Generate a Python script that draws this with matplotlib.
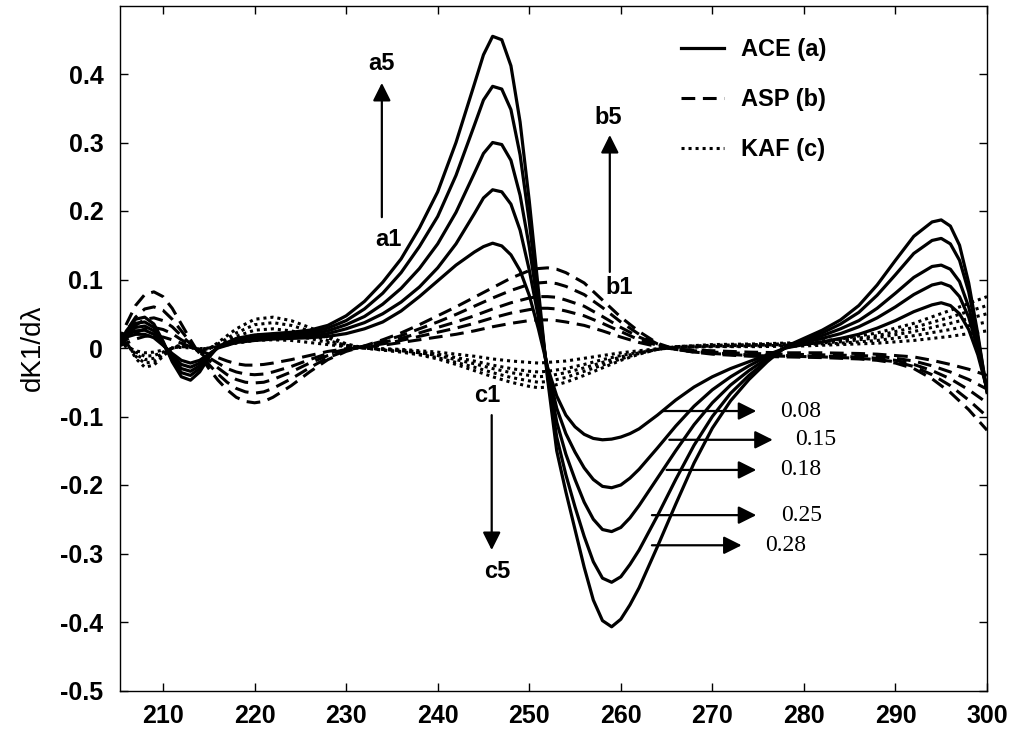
import matplotlib
matplotlib.use("Agg")
import matplotlib.pyplot as plt
from matplotlib.lines import Line2D

# ---------------- data ----------------
x_ace = [205, 206, 207, 208, 209, 210, 211, 212, 213, 214, 215, 216, 218, 220, 222, 224, 226, 228,
         230, 232, 234, 236, 238, 240, 242, 244, 245, 246, 247, 248, 249, 250, 251, 252, 253, 254,
         255, 256, 257, 258, 259, 260, 261, 262, 264, 266, 268, 270, 272, 274, 276, 278, 280, 282,
         284, 286, 288, 290, 292, 294, 295, 296, 297, 298, 299, 300]

ace_a5 = [0.000, 0.025, 0.042, 0.045, 0.035, 0.010, -0.020, -0.042, -0.047, -0.035, -0.014, 0.002,
          0.014, 0.019, 0.021, 0.023, 0.026, 0.033, 0.047, 0.068, 0.096, 0.130, 0.175, 0.228, 0.300,
          0.385, 0.428, 0.455, 0.450, 0.412, 0.330, 0.215, 0.085, -0.045, -0.150, -0.210, -0.265,
          -0.320, -0.368, -0.398, -0.407, -0.396, -0.375, -0.350, -0.290, -0.228, -0.168, -0.117,
          -0.077, -0.046, -0.020, 0.002, 0.014, 0.026, 0.041, 0.062, 0.092, 0.128, 0.163, 0.184,
          0.187, 0.178, 0.150, 0.095, 0.020, -0.065]
ace_a4 = [0.005, 0.022, 0.036, 0.038, 0.030, 0.008, -0.017, -0.036, -0.040, -0.030, -0.013, 0.002,
          0.012, 0.017, 0.019, 0.021, 0.023, 0.029, 0.040, 0.057, 0.080, 0.110, 0.148, 0.192, 0.252,
          0.325, 0.362, 0.382, 0.378, 0.348, 0.282, 0.185, 0.070, -0.040, -0.130, -0.185, -0.232,
          -0.275, -0.312, -0.336, -0.342, -0.334, -0.316, -0.295, -0.245, -0.192, -0.142, -0.100,
          -0.066, -0.040, -0.018, 0.001, 0.012, 0.022, 0.035, 0.052, 0.077, 0.107, 0.138, 0.157,
          0.160, 0.152, 0.128, 0.082, 0.015, -0.063]
ace_a3 = [0.008, 0.020, 0.030, 0.032, 0.025, 0.006, -0.014, -0.030, -0.034, -0.026, -0.012, 0.001,
          0.010, 0.015, 0.017, 0.018, 0.020, 0.025, 0.034, 0.046, 0.064, 0.087, 0.116, 0.152, 0.198,
          0.255, 0.284, 0.300, 0.297, 0.274, 0.223, 0.148, 0.058, -0.035, -0.108, -0.155, -0.192,
          -0.225, -0.250, -0.265, -0.268, -0.262, -0.248, -0.230, -0.190, -0.150, -0.112, -0.080,
          -0.054, -0.033, -0.015, 0.001, 0.010, 0.018, 0.028, 0.040, 0.058, 0.080, 0.103, 0.119,
          0.121, 0.115, 0.097, 0.060, 0.005, -0.062]
ace_a2 = [0.010, 0.018, 0.025, 0.026, 0.020, 0.005, -0.011, -0.024, -0.028, -0.022, -0.010, 0.001,
          0.009, 0.013, 0.015, 0.016, 0.017, 0.021, 0.028, 0.037, 0.050, 0.067, 0.089, 0.117, 0.152,
          0.196, 0.219, 0.231, 0.228, 0.210, 0.172, 0.114, 0.045, -0.030, -0.088, -0.125, -0.152,
          -0.175, -0.192, -0.202, -0.204, -0.200, -0.190, -0.177, -0.146, -0.114, -0.085, -0.061,
          -0.042, -0.026, -0.012, 0.000, 0.008, 0.014, 0.021, 0.031, 0.044, 0.060, 0.078, 0.092,
          0.095, 0.090, 0.075, 0.045, -0.002, -0.061]
ace_a1 = [0.012, 0.016, 0.020, 0.020, 0.015, 0.004, -0.008, -0.018, -0.022, -0.018, -0.009, 0.000,
          0.008, 0.011, 0.013, 0.014, 0.015, 0.017, 0.021, 0.028, 0.038, 0.054, 0.075, 0.098, 0.121,
          0.140, 0.148, 0.153, 0.149, 0.136, 0.113, 0.077, 0.028, -0.028, -0.070, -0.098, -0.115,
          -0.126, -0.132, -0.134, -0.133, -0.130, -0.125, -0.118, -0.098, -0.076, -0.057, -0.042,
          -0.030, -0.020, -0.010, 0.000, 0.005, 0.009, 0.014, 0.020, 0.029, 0.040, 0.053, 0.063,
          0.066, 0.062, 0.050, 0.027, -0.010, -0.060]

x_asp = [205, 206, 207, 208, 209, 210, 211, 212, 213, 214, 215, 216, 217, 218, 219, 220, 221, 222,
         224, 226, 228, 230, 232, 234, 236, 238, 240, 242, 244, 246, 248, 250, 251, 252, 253, 254,
         256, 258, 260, 262, 264, 266, 268, 270, 274, 278, 282, 286, 288, 290, 292, 294, 296, 298, 300]

asp_b5 = [0.005, 0.035, 0.062, 0.078, 0.082, 0.075, 0.058, 0.035, 0.012, -0.010, -0.030, -0.047,
          -0.061, -0.072, -0.078, -0.080, -0.078, -0.072, -0.055, -0.035, -0.017, -0.005, 0.003,
          0.012, 0.022, 0.034, 0.047, 0.060, 0.074, 0.088, 0.102, 0.113, 0.116, 0.117, 0.115, 0.110,
          0.095, 0.070, 0.045, 0.024, 0.007, -0.002, -0.006, -0.009, -0.012, -0.013, -0.014, -0.016,
          -0.018, -0.022, -0.030, -0.045, -0.065, -0.090, -0.120]
asp_b4 = [0.005, 0.025, 0.045, 0.057, 0.060, 0.055, 0.042, 0.025, 0.008, -0.008, -0.024, -0.038,
          -0.050, -0.059, -0.064, -0.066, -0.064, -0.059, -0.045, -0.029, -0.014, -0.004, 0.003,
          0.010, 0.018, 0.028, 0.038, 0.049, 0.061, 0.073, 0.084, 0.093, 0.095, 0.096, 0.094, 0.090,
          0.078, 0.059, 0.038, 0.020, 0.006, -0.002, -0.006, -0.008, -0.011, -0.012, -0.013, -0.015,
          -0.017, -0.020, -0.027, -0.039, -0.055, -0.076, -0.100]
asp_b3 = [0.004, 0.018, 0.033, 0.042, 0.044, 0.040, 0.031, 0.018, 0.006, -0.006, -0.018, -0.029,
          -0.039, -0.046, -0.050, -0.051, -0.050, -0.046, -0.035, -0.022, -0.011, -0.003, 0.002,
          0.008, 0.014, 0.022, 0.030, 0.038, 0.047, 0.057, 0.066, 0.073, 0.075, 0.075, 0.074, 0.070,
          0.061, 0.046, 0.030, 0.016, 0.005, -0.002, -0.005, -0.007, -0.010, -0.011, -0.012, -0.013,
          -0.015, -0.018, -0.024, -0.033, -0.045, -0.061, -0.080]
asp_b2 = [0.003, 0.012, 0.022, 0.028, 0.030, 0.027, 0.021, 0.012, 0.004, -0.005, -0.014, -0.022,
          -0.030, -0.035, -0.038, -0.039, -0.038, -0.035, -0.027, -0.017, -0.008, -0.002, 0.002,
          0.006, 0.011, 0.017, 0.023, 0.029, 0.036, 0.044, 0.051, 0.056, 0.058, 0.058, 0.057, 0.054,
          0.047, 0.036, 0.024, 0.012, 0.004, -0.002, -0.004, -0.006, -0.008, -0.009, -0.010, -0.011,
          -0.012, -0.015, -0.019, -0.026, -0.035, -0.046, -0.060]
asp_b1 = [0.002, 0.007, 0.013, 0.017, 0.018, 0.016, 0.012, 0.007, 0.002, -0.003, -0.009, -0.014,
          -0.019, -0.023, -0.025, -0.025, -0.024, -0.022, -0.017, -0.011, -0.005, -0.001, 0.001,
          0.004, 0.008, 0.012, 0.016, 0.020, 0.025, 0.031, 0.036, 0.040, 0.041, 0.041, 0.040, 0.038,
          0.033, 0.025, 0.016, 0.008, 0.002, -0.002, -0.003, -0.004, -0.006, -0.007, -0.007, -0.008,
          -0.009, -0.011, -0.013, -0.018, -0.024, -0.031, -0.040]

x_kaf = [205, 206, 207, 208, 209, 210, 211, 212, 213, 214, 215, 216, 218, 220, 222, 224, 226, 228,
         230, 232, 234, 236, 238, 240, 242, 244, 246, 248, 250, 251, 252, 254, 256, 258, 260, 262,
         264, 266, 270, 275, 280, 284, 288, 292, 296, 300]

kaf_c5 = [0.025, 0.010, -0.015, -0.028, -0.025, -0.012, 0.000, 0.005, 0.002, -0.004, -0.002, 0.008,
          0.028, 0.042, 0.045, 0.040, 0.030, 0.018, 0.006, 0.000, -0.003, -0.006, -0.010, -0.016,
          -0.024, -0.033, -0.042, -0.050, -0.056, -0.058, -0.057, -0.050, -0.040, -0.029, -0.018,
          -0.009, -0.002, 0.002, 0.005, 0.006, 0.008, 0.013, 0.022, 0.036, 0.055, 0.075]
kaf_c4 = [0.020, 0.008, -0.012, -0.022, -0.020, -0.010, 0.000, 0.004, 0.001, -0.003, -0.001, 0.006,
          0.022, 0.034, 0.037, 0.033, 0.025, 0.015, 0.005, 0.000, -0.003, -0.005, -0.009, -0.014,
          -0.021, -0.028, -0.036, -0.043, -0.048, -0.050, -0.049, -0.043, -0.034, -0.025, -0.016,
          -0.008, -0.002, 0.002, 0.004, 0.005, 0.007, 0.011, 0.018, 0.030, 0.045, 0.062]
kaf_c3 = [0.015, 0.006, -0.009, -0.017, -0.015, -0.008, 0.000, 0.003, 0.001, -0.002, -0.001, 0.005,
          0.017, 0.026, 0.028, 0.025, 0.019, 0.011, 0.004, 0.000, -0.002, -0.004, -0.007, -0.011,
          -0.017, -0.023, -0.030, -0.036, -0.040, -0.042, -0.041, -0.036, -0.029, -0.021, -0.013,
          -0.007, -0.002, 0.001, 0.003, 0.004, 0.006, 0.009, 0.015, 0.024, 0.036, 0.050]
kaf_c2 = [0.010, 0.004, -0.006, -0.012, -0.011, -0.006, 0.000, 0.002, 0.001, -0.002, 0.000, 0.004,
          0.012, 0.019, 0.020, 0.018, 0.014, 0.008, 0.003, 0.000, -0.002, -0.003, -0.006, -0.009,
          -0.014, -0.019, -0.025, -0.030, -0.034, -0.035, -0.034, -0.030, -0.024, -0.017, -0.011,
          -0.006, -0.002, 0.001, 0.002, 0.003, 0.005, 0.007, 0.011, 0.018, 0.027, 0.038]
kaf_c1 = [0.006, 0.002, -0.004, -0.007, -0.006, -0.003, 0.000, 0.001, 0.000, -0.001, 0.000, 0.002,
          0.007, 0.011, 0.012, 0.011, 0.008, 0.005, 0.002, 0.000, -0.001, -0.002, -0.004, -0.006,
          -0.009, -0.012, -0.016, -0.019, -0.021, -0.022, -0.021, -0.019, -0.015, -0.011, -0.007,
          -0.004, -0.001, 0.001, 0.002, 0.002, 0.003, 0.005, 0.007, 0.011, 0.017, 0.025]

x_ticks = [210, 220, 230, 240, 250, 260, 270, 280, 290, 300]
y_ticks = [-0.5, -0.4, -0.3, -0.2, -0.1, 0.0, 0.1, 0.2, 0.3, 0.4]
y_tick_labels = ['-0.5', '-0.4', '-0.3', '-0.2', '-0.1', '0', '0.1', '0.2', '0.3', '0.4']
legend_labels = ['ACE (a)', 'ASP (b)', 'KAF (c)']
conc_labels = ['0.08', '0.15', '0.18', '0.25', '0.28']

# ---------------- figure ----------------
SANS = ['Liberation Sans', 'DejaVu Sans']
SERIF = ['Liberation Serif', 'DejaVu Serif']

fig = plt.figure(figsize=(10.14, 7.38), dpi=100)
ax = fig.add_axes([120 / 1014, 47.5 / 738, 867 / 1014, 685 / 738])

solid_kw = dict(color='black', lw=2.3, linestyle='-', solid_joinstyle='round')
dash_kw = dict(color='black', lw=2.2, linestyle=(0, (4.5, 2.5)))
dot_kw = dict(color='black', lw=2.2, linestyle=(0, (1, 1.3)))

for ys in [kaf_c1, kaf_c2, kaf_c3, kaf_c4, kaf_c5]:
    ax.plot(x_kaf, ys, **dot_kw)
for ys in [asp_b1, asp_b2, asp_b3, asp_b4, asp_b5]:
    ax.plot(x_asp, ys, **dash_kw)
for ys in [ace_a1, ace_a2, ace_a3, ace_a4, ace_a5]:
    ax.plot(x_ace, ys, **solid_kw)

ax.set_xlim(205.3, 300)
ax.set_ylim(-0.5, 0.5)
ax.set_xticks(x_ticks)
ax.set_xticklabels([str(t) for t in x_ticks])
ax.set_yticks(y_ticks)
ax.set_yticklabels(y_tick_labels)
ax.tick_params(direction='in', top=True, right=True, length=6, width=1)
ax.tick_params(axis='y', pad=12)
ax.tick_params(axis='x', pad=10)
for lab in ax.get_xticklabels() + ax.get_yticklabels():
    lab.set_fontfamily(SANS)
    lab.set_fontweight('bold')
    lab.set_fontsize(18)
for sp in ax.spines.values():
    sp.set_linewidth(1.0)

ax.set_ylabel('dK1/d\u03bb', fontsize=20, family=SANS, labelpad=10)

# legend
handles = [Line2D([], [], **solid_kw), Line2D([], [], **dash_kw), Line2D([], [], **dot_kw)]
leg = ax.legend(handles, legend_labels, loc='upper left', bbox_to_anchor=(0.634, 0.970),
                frameon=False, borderpad=0, handlelength=1.8, handletextpad=0.7,
                labelspacing=1.15, prop=dict(family=SANS, weight='bold', size=17))

# direction arrows and labels
arr = dict(arrowstyle='-|>,head_length=0.6,head_width=0.3', color='black', lw=1.6,
           mutation_scale=18, shrinkA=0, shrinkB=0)
txt = dict(fontsize=17, fontweight='bold', family=SANS, ha='center', va='center')

ax.annotate('', xy=(233.9, 0.387), xytext=(233.9, 0.191), arrowprops=arr)
ax.text(233.9, 0.416, 'a5', **txt)
ax.text(234.6, 0.158, 'a1', **txt)

ax.annotate('', xy=(258.8, 0.311), xytext=(258.8, 0.111), arrowprops=arr)
ax.text(258.6, 0.337, 'b5', **txt)
ax.text(259.8, 0.089, 'b1', **txt)

ax.annotate('', xy=(245.9, -0.295), xytext=(245.9, -0.098), arrowprops=arr)
ax.text(245.4, -0.069, 'c1', **txt)
ax.text(246.5, -0.327, 'c5', **txt)

# concentration arrows
conc_arrows = [(264.6, 274.8, -0.092, 279.6), (265.3, 276.6, -0.134, 281.3),
               (265.0, 274.8, -0.178, 279.6), (263.4, 274.8, -0.244, 279.8),
               (263.4, 273.2, -0.288, 278.0)]
for (x0, x1, yy, xl), lab in zip(conc_arrows, conc_labels):
    ax.annotate('', xy=(x1, yy), xytext=(x0, yy), arrowprops=arr)
    ax.text(xl, yy, lab, fontsize=17, family=SERIF, ha='center', va='center')

fig.savefig('out.png', dpi=100)
